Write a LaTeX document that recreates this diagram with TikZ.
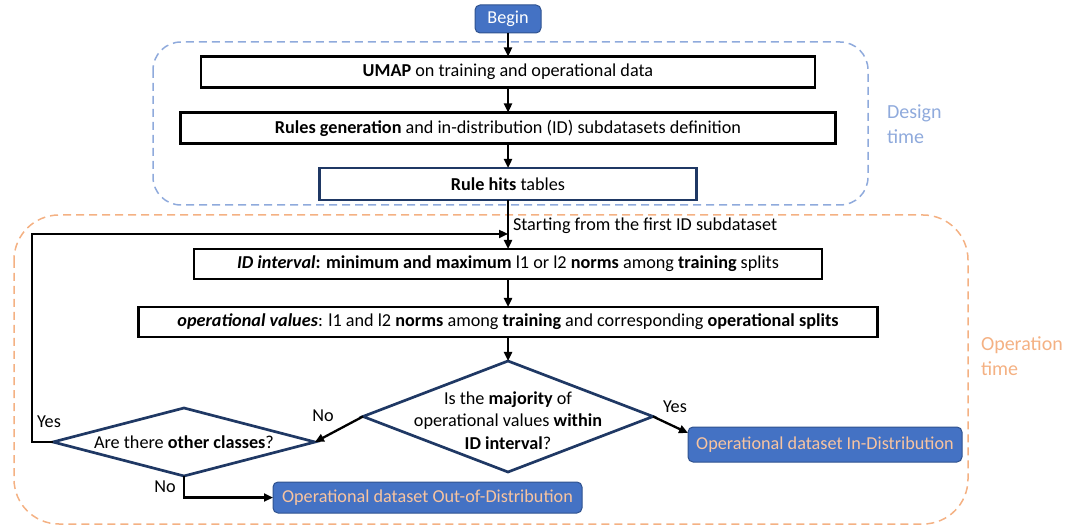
\documentclass[tikz,border=0pt]{standalone}
\usepackage{fontspec}
\setmainfont{Carlito}
\usetikzlibrary{arrows.meta,shapes.geometric,calc}
\definecolor{boxblue}{HTML}{4472C4}
\definecolor{boxblueborder}{HTML}{2F528F}
\definecolor{navy}{HTML}{1F3864}
\definecolor{peach}{HTML}{F4B183}
\definecolor{peachtext}{HTML}{F8C4A0}
\definecolor{lightblue}{HTML}{8FAADC}
\begin{document}
\begin{tikzpicture}[x=1pt,y=-1pt,
  every node/.style={font=\fontsize{18.2}{22.5}\selectfont, inner sep=0pt, outer sep=0pt},
  procbox/.style={draw=black, line width=2.9pt, minimum height=31pt},
  navybox/.style={draw=navy, line width=2.9pt, minimum height=32pt},
  bluebox/.style={draw=boxblueborder, fill=boxblue, line width=1pt, rounded corners=5pt},
  decision/.style={diamond, draw=navy, line width=2.7pt, inner sep=0pt},
  arr/.style={draw=black, line width=2.3pt, -{Triangle[length=9pt,width=8pt]}},
  region/.style={dashed, dash pattern=on 8pt off 5pt, line width=1.5pt},
  lbl/.style={anchor=center}
]
\useasboundingbox (0,0) rectangle (1073,526);

% regions
\draw[region, draw=lightblue, rounded corners=28pt] (153,42) rectangle (868,205);
\draw[region, draw=peach, rounded corners=45pt] (14,215) rectangle (968,524);
\node[anchor=west, text=lightblue, align=left, font=\fontsize{20}{24.5}\selectfont] (designlbl) at (887,124) {Design\\time};
\node[anchor=west, text=peach, align=left, font=\fontsize{20}{24.5}\selectfont] (oplbl) at (981,356) {Operation\\time};

% nodes
\node[bluebox, text=white, minimum width=66pt, minimum height=28pt] (begin) at (508,19) {Begin};
\node[procbox, minimum width=614pt] (umap) at (508,72) {\textbf{UMAP} on training and operational data};
\node[procbox, minimum width=655pt] (rules) at (508,128) {\textbf{Rules generation} and in-distribution (ID) subdatasets definition};
\node[navybox, minimum width=377pt] (hits) at (508,184) {\textbf{Rule hits} tables};
\node[procbox, minimum width=628pt, minimum height=30pt] (idint) at (508,264) {\textbf{\textit{ID interval}: minimum and maximum} l1 or l2 \textbf{norms} among \textbf{training} splits};
\node[procbox, minimum width=739pt, minimum height=30pt] (opval) at (508,322) {\textbf{\textit{operational values}}: l1 and l2 \textbf{norms} among \textbf{training} and corresponding \textbf{operational splits}};

\node[decision, minimum width=290pt, minimum height=111pt] (q1) at (508,416.5)
  {\smash{\makebox[0pt]{\raisebox{-10pt}{\begin{tabular}{@{}c@{}}Is the \textbf{majority} of\\ operational values \textbf{within}\\ \textbf{ID interval}?\end{tabular}}}}};
\node[decision, minimum width=262pt, minimum height=68pt] (q2) at (184,442)
  {\smash{\makebox[0pt]{\raisebox{-6pt}{Are there \textbf{other classes}?}}}};

\node[bluebox, text=peachtext, minimum width=274pt, minimum height=35pt] (idbox) at (825,444.5) {Operational dataset In-Distribution};
\node[bluebox, text=peachtext, minimum width=309pt, minimum height=31pt] (oodbox) at (427.5,497.5) {Operational dataset Out-of-Distribution};

% labels
\node[anchor=west] (startlbl) at (513,226) {Starting from the first ID subdataset};
\node[lbl] (yesloop) at (49,422) {Yes};
\node[lbl] (noleft) at (323,416) {No};
\node[lbl] (nodown) at (165,487) {No};
\node[lbl] (yesright) at (675,407) {Yes};

\coordinate (loopend) at (508,234);

% connectors
\draw[arr] (begin) -- (umap);
\draw[arr] (umap) -- (rules);
\draw[arr] (rules) -- (hits);
\draw[arr] (hits) -- (idint);
\draw[arr] (idint) -- (opval);
\draw[arr] (opval) -- (q1.north);
\draw[arr] (q1.west) -- (q2.east);
\draw[arr] (q1.east) -- ([yshift=-6pt]idbox.north west);
\draw[arr] (q2.south) |- (oodbox.west);
\draw[arr] (q2.west) -- ++(-21,0) |- (loopend);
\end{tikzpicture}
\end{document}
